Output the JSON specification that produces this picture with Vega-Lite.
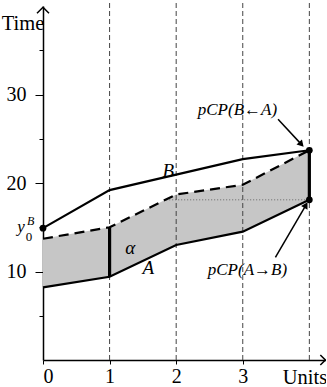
{
  "$schema": "https://vega.github.io/schema/vega-lite/v6.json",
  "width": 283,
  "height": 354,
  "autosize": {"type": "none"},
  "padding": {"left": 43, "top": 6, "right": 0, "bottom": 27},
  "background": "white",
  "config": {"view": {"stroke": null}, "font": "Liberation Serif"},
  "datasets": {
    "curves": [
      {"curve": "B", "x": 0, "y": 14.9},
      {"curve": "B", "x": 1, "y": 19.2},
      {"curve": "B", "x": 3, "y": 22.7},
      {"curve": "B", "x": 4, "y": 23.7},
      {"curve": "A", "x": 0, "y": 8.2},
      {"curve": "A", "x": 1, "y": 9.4},
      {"curve": "A", "x": 2, "y": 13.0},
      {"curve": "A", "x": 3, "y": 14.5},
      {"curve": "A", "x": 4, "y": 18.1},
      {"curve": "upper", "x": 0, "y": 13.7},
      {"curve": "upper", "x": 1, "y": 15.0},
      {"curve": "upper", "x": 2, "y": 18.7},
      {"curve": "upper", "x": 3, "y": 19.8},
      {"curve": "upper", "x": 4, "y": 23.7}
    ],
    "units": [{"x": 1}, {"x": 2}, {"x": 3}, {"x": 4}],
    "gaps": [
      {"name": "alpha", "x": 1, "lo": 9.4, "hi": 15.0},
      {"name": "pCP", "x": 4, "lo": 18.1, "hi": 23.7}
    ],
    "dots": [
      {"name": "y0B", "x": 0, "y": 14.9},
      {"name": "pCP(B<-A)", "x": 4, "y": 23.7},
      {"name": "pCP(A->B)", "x": 4, "y": 18.1}
    ],
    "pointers": [
      {"name": "pCP(B<-A)", "x": 3.53, "y": 27.2, "x2": 3.87, "y2": 24.45, "dir": 137},
      {"name": "pCP(A->B)", "x": 3.49, "y": 11.6, "x2": 3.94, "y2": 17.4, "dir": 30}
    ]
  },
  "encoding": {
    "x": {"type": "quantitative", "scale": {"domain": [0, 4.25], "nice": false, "zero": false}},
    "y": {"type": "quantitative", "scale": {"domain": [0, 40], "nice": false}}
  },
  "layer": [
    {
      "data": {"name": "curves"},
      "transform": [{"pivot": "curve", "value": "y", "groupby": ["x"]}],
      "mark": {"type": "area", "color": "#c6c6c6", "opacity": 1},
      "encoding": {
        "x": {
          "field": "x",
          "type": "quantitative",
          "axis": {
            "values": [0, 1, 2, 3],
            "format": "d",
            "title": null,
            "grid": false,
            "domainColor": "black",
            "domainWidth": 1.5,
            "tickColor": "black",
            "tickSize": 4,
            "labelPadding": 2,
            "labelFont": "Liberation Serif",
            "labelFontSize": 20,
            "labelColor": "black"
          }
        },
        "y": {
          "field": "A",
          "type": "quantitative",
          "axis": {
            "values": [5, 10, 15, 20, 25, 30, 35],
            "labelExpr": "datum.value % 10 === 0 ? datum.label : ''",
            "title": null,
            "grid": false,
            "domainColor": "black",
            "domainWidth": 1.5,
            "tickColor": "black",
            "tickSize": {"condition": {"test": "datum.value % 10 === 0", "value": 8}, "value": 4},
            "labelPadding": 9,
            "labelFont": "Liberation Serif",
            "labelFontSize": 20,
            "labelColor": "black"
          }
        },
        "y2": {"field": "upper"}
      }
    },
    {
      "data": {"name": "units"},
      "mark": {"type": "rule", "color": "#444", "strokeWidth": 1, "strokeDash": [5, 3]},
      "encoding": {
        "x": {"field": "x"},
        "y": {"datum": 0},
        "y2": {"datum": 40.7}
      }
    },
    {
      "data": {"values": [{"from": 1.85, "to": 4, "level": 18.1}]},
      "mark": {"type": "rule", "color": "#666", "strokeWidth": 1, "strokeDash": [1, 2]},
      "encoding": {
        "x": {"field": "from"},
        "x2": {"field": "to"},
        "y": {"field": "level"}
      }
    },
    {
      "data": {"name": "curves"},
      "transform": [{"filter": "datum.curve !== 'upper'"}],
      "mark": {"type": "line", "color": "black", "strokeWidth": 2.2},
      "encoding": {
        "x": {"field": "x"},
        "y": {"field": "y"},
        "detail": {"field": "curve"}
      }
    },
    {
      "data": {"name": "curves"},
      "transform": [{"filter": "datum.curve === 'upper'"}],
      "mark": {"type": "line", "color": "black", "strokeWidth": 2.2, "strokeDash": [10, 6]},
      "encoding": {
        "x": {"field": "x"},
        "y": {"field": "y"}
      }
    },
    {
      "data": {"name": "gaps"},
      "mark": {"type": "rule", "color": "black", "strokeWidth": 3.2},
      "encoding": {
        "x": {"field": "x"},
        "y": {"field": "lo"},
        "y2": {"field": "hi"}
      }
    },
    {
      "data": {"name": "dots"},
      "mark": {"type": "point", "filled": true, "color": "black", "size": 45, "opacity": 1},
      "encoding": {
        "x": {"field": "x"},
        "y": {"field": "y"}
      }
    },
    {
      "data": {"name": "pointers"},
      "mark": {"type": "rule", "color": "black", "strokeWidth": 1.5},
      "encoding": {
        "x": {"field": "x"},
        "y": {"field": "y"},
        "x2": {"field": "x2"},
        "y2": {"field": "y2"}
      }
    },
    {
      "data": {"name": "pointers"},
      "mark": {"type": "point", "shape": "triangle", "filled": true, "color": "black", "size": 55, "opacity": 1},
      "encoding": {
        "x": {"field": "x2"},
        "y": {"field": "y2"},
        "angle": {"field": "dir", "type": "quantitative", "scale": null}
      }
    },
    {
      "data": {"values": [{"x": 0, "y": 39.85}]},
      "mark": {"type": "point", "shape": "M-1,1L0,0L1,1", "filled": false, "color": "black", "strokeWidth": 1.5, "size": 144, "opacity": 1},
      "encoding": {"x": {"field": "x"}, "y": {"field": "y"}}
    },
    {
      "data": {"values": [{"x": 4.24, "y": 0}]},
      "mark": {"type": "point", "shape": "M-1,-1L0,0L-1,1", "filled": false, "color": "black", "strokeWidth": 1.5, "size": 100, "opacity": 1},
      "encoding": {"x": {"field": "x"}, "y": {"field": "y"}}
    },
    {
      "data": {"values": [
        {"text": "B", "x": 1.88, "y": 21.3},
        {"text": "A", "x": 1.58, "y": 10.4},
        {"text": "α", "x": 1.31, "y": 12.7}
      ]},
      "mark": {"type": "text", "font": "Liberation Serif", "fontStyle": "italic", "fontSize": 19, "color": "black", "baseline": "middle"},
      "encoding": {"x": {"field": "x"}, "y": {"field": "y"}, "text": {"field": "text"}}
    },
    {
      "data": {"values": [
        {"text": "pCP(B←A)", "x": 2.92, "y": 28.3},
        {"text": "pCP(A→B)", "x": 3.07, "y": 10.2}
      ]},
      "mark": {"type": "text", "font": "Liberation Serif", "fontStyle": "italic", "fontSize": 17, "color": "black", "baseline": "middle"},
      "encoding": {"x": {"field": "x"}, "y": {"field": "y"}, "text": {"field": "text"}}
    },
    {
      "data": {"values": [{"text": "y", "x": -0.33, "y": 14.5}]},
      "mark": {"type": "text", "font": "Liberation Serif", "fontStyle": "italic", "fontSize": 17, "color": "black", "baseline": "alphabetic", "align": "center"},
      "encoding": {"x": {"field": "x"}, "y": {"field": "y"}, "text": {"field": "text"}}
    },
    {
      "data": {"values": [{"text": "B", "x": -0.24, "y": 15.3}]},
      "mark": {"type": "text", "font": "Liberation Serif", "fontStyle": "italic", "fontSize": 12, "color": "black", "baseline": "alphabetic", "align": "left"},
      "encoding": {"x": {"field": "x"}, "y": {"field": "y"}, "text": {"field": "text"}}
    },
    {
      "data": {"values": [{"text": "0", "x": -0.26, "y": 13.4}]},
      "mark": {"type": "text", "font": "Liberation Serif", "fontSize": 13, "color": "black", "baseline": "alphabetic", "align": "left"},
      "encoding": {"x": {"field": "x"}, "y": {"field": "y"}, "text": {"field": "text"}}
    },
    {
      "data": {"values": [
        {"text": "Time", "x": -0.62, "y": 37.3},
        {"text": "Units", "x": 3.6, "y": -2.71}
      ]},
      "mark": {"type": "text", "font": "Liberation Serif", "fontSize": 20.5, "color": "black", "baseline": "alphabetic", "align": "left"},
      "encoding": {"x": {"field": "x"}, "y": {"field": "y"}, "text": {"field": "text"}}
    }
  ]
}
